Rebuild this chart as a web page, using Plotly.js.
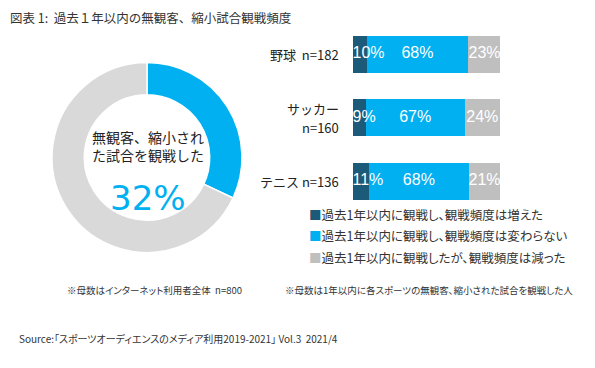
<!DOCTYPE html>
<html>
<head>
<meta charset="utf-8">
<script src="https://cdn.plot.ly/plotly-3.0.1.min.js"></script>
<style>html,body{margin:0;padding:0;background:#fff;}#chart{width:595px;height:368px;}</style>
</head>
<body>
<div id="chart"></div>
<script>
// ---- data ----
const donutLabels = ["観戦した", "観戦していない"];
const donutValues = [32, 68];
const sports = ["野球", "サッカー", "テニス"];
const sampleN = [182, 160, 136];
const seriesNames = [
  "過去1年以内に観戦し、観戦頻度は増えた",
  "過去1年以内に観戦し、観戦頻度は変わらない",
  "過去1年以内に観戦したが、観戦頻度は減った"
];
const increased = [10, 9, 11];
const unchanged = [68, 67, 68];
const decreased = [23, 24, 21];
const seriesColors = ["#1B5A78", "#00B0F0", "#BFBFBF"];
const donutColors = ["#00B0F0", "#D9D9D9"];

const FONT = "Liberation Sans, Arial, Noto Sans CJK JP, sans-serif";
const JFONT = "Noto Sans CJK JP, Liberation Sans, sans-serif";
const palt = s => "<span style=\"font-feature-settings:'palt'\">" + s + "</span>";

const seriesValues = [increased, unchanged, decreased];
const traces = [];
traces.push({
  type: "pie",
  labels: donutLabels,
  values: donutValues,
  hole: 0.66,
  sort: false,
  direction: "clockwise",
  rotation: 0,
  marker: {colors: donutColors, line: {color: "#ffffff", width: 1.5}},
  textinfo: "none",
  hoverinfo: "label+percent",
  showlegend: false,
  domain: {x: [52/595, 242/595], y: [1 - 253/368, 1 - 62/368]}
});
seriesValues.forEach((vals, i) => {
  traces.push({
    type: "bar",
    orientation: "h",
    name: seriesNames[i],
    x: vals,
    y: sports,
    xaxis: "x",
    yaxis: "y",
    marker: {color: seriesColors[i]},
    showlegend: false
  });
});
// value labels drawn on top of all bars
seriesValues.forEach((vals, i) => {
  const xs = vals.map((v, k) => {
    let base = 0;
    for (let j = 0; j < i; j++) base += seriesValues[j][k];
    return i === 0 ? 0 : base + v / 2;
  });
  traces.push({
    type: "scatter",
    mode: "text",
    x: xs,
    y: sports,
    xaxis: "x",
    yaxis: "y",
    text: vals.map(v => v + "%"),
    textposition: i === 0 ? "middle right" : "middle center",
    textfont: {color: "#ffffff", size: 16, family: FONT},
    cliponaxis: false,
    hoverinfo: "skip",
    showlegend: false
  });
});

// category labels (sport + sample size); the second one wraps onto two lines
const catAnn = [];
sports.forEach((s, k) => {
  const base = {xref: "paper", yref: "y", x: 341/595, y: s, xanchor: "right", yanchor: "middle",
                showarrow: false, font: {family: JFONT, size: 13, color: "#222222"}};
  if (k === 1) {
    catAnn.push(Object.assign({}, base, {text: s, yshift: 9.5}));
    catAnn.push(Object.assign({}, base, {text: "n=" + sampleN[k], yshift: -9.5}));
  } else {
    catAnn.push(Object.assign({}, base, {text: s + (k === 0 ? "\u00a0\u00a0" : " ") + "n=" + sampleN[k]}));
  }
});

const legendAnn = seriesNames.map((n, i) => ({
  xref: "paper", yref: "paper",
  x: 307/595, y: 1 - (214 + i * 21.5)/368,
  xanchor: "left", yanchor: "middle",
  text: "<span style='color:" + seriesColors[i] + "'>■</span>" + palt(n),
  showarrow: false,
  font: {family: JFONT, size: 12.5, color: "#333333"}
}));

const layout = {
  width: 595, height: 368,
  margin: {l: 0, r: 0, t: 0, b: 0},
  paper_bgcolor: "#ffffff",
  plot_bgcolor: "rgba(0,0,0,0)",
  barmode: "stack",
  bargap: 0.417,
  showlegend: false,
  xaxis: {domain: [352.5/595, 500/595], range: [0, 100], visible: false, fixedrange: true},
  yaxis: {
    domain: [1 - 212.75/368, 1 - 22.75/368],
    autorange: "reversed",
    showgrid: false, zeroline: false, showline: false,
    ticks: "", showticklabels: false
  },
  annotations: [
    {xref: "paper", yref: "paper", x: 8/595, y: 1 - 17/368, xanchor: "left", yanchor: "middle",
     text: "図表 1:\u00a0\u00a0過去１年以内の無観客、縮小試合観戦頻度", showarrow: false,
     font: {family: JFONT, size: 12.5, color: "#333333"}},
    {xref: "paper", yref: "paper", x: 148/595, y: 1 - 146/368, xanchor: "center", yanchor: "middle",
     text: "無観客、縮小され<br>た試合を観戦した", showarrow: false,
     font: {family: JFONT, size: 14, color: "#222222"}},
    {xref: "paper", yref: "paper", x: 148/595, y: 1 - 198/368, xanchor: "center", yanchor: "middle",
     text: donutValues[0] + "%", showarrow: false,
     font: {family: "DejaVu Sans, sans-serif", size: 34, color: "#00B0F0"}},
    {xref: "paper", yref: "paper", x: 65/595, y: 1 - 290/368, xanchor: "left", yanchor: "middle",
     text: palt("※母数はインターネット利用者全体\u00a0\u00a0n=800"), showarrow: false,
     font: {family: JFONT, size: 9.5, color: "#333333"}},
    {xref: "paper", yref: "paper", x: 283/595, y: 1 - 290/368, xanchor: "left", yanchor: "middle",
     text: palt("※母数は1年以内に各スポーツの無観客、縮小された試合を観戦した人"), showarrow: false,
     font: {family: JFONT, size: 9.5, color: "#333333"}},
    {xref: "paper", yref: "paper", x: 17/595, y: 1 - 338/368, xanchor: "left", yanchor: "middle",
     text: palt("Source:「スポーツオーディエンスのメディア利用2019-2021」 Vol.3\u00a0\u00a02021/4"), showarrow: false,
     font: {family: JFONT, size: 10, color: "#333333"}}
  ].concat(catAnn, legendAnn)
};

Plotly.newPlot("chart", traces, layout, {staticPlot: true, displayModeBar: false});
</script>
</body>
</html>
